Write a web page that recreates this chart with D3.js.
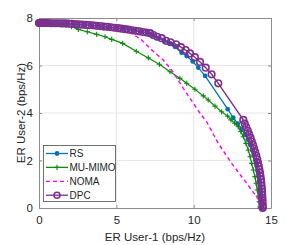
<!DOCTYPE html>
<html>
<head>
<meta charset="utf-8">
<script src="https://cdn.jsdelivr.net/npm/d3@7"></script>
<style>
body { margin: 0; background: #fff; }
text { font-family: "Liberation Sans", Arial, sans-serif; fill: #262626; }
</style>
</head>
<body>
<div id="container"></div>
<script>
// series values
var rsX = [0, 0.03, 0.1, 0.2, 0.33, 0.5, 0.7, 0.93, 1.2, 1.5, 1.83, 2.18, 2.55, 2.94, 3.34, 3.75, 4.16, 4.57, 4.98, 5.39, 5.8, 6.2, 6.6, 6.98, 7.35, 7.72, 8.1, 8.47, 8.79, 9.22, 9.55, 9.94, 10.30, 10.74, 12.20,
  12.56, 12.85, 13.10, 13.32, 13.50, 13.65, 13.78, 13.89, 13.99, 14.07, 14.14, 14.20, 14.26, 14.31, 14.35, 14.38, 14.40, 14.41, 14.42];
var rsY = [7.79, 7.79, 7.79, 7.79, 7.79, 7.79, 7.79, 7.78, 7.78, 7.77, 7.76, 7.75, 7.73, 7.71, 7.69, 7.67, 7.64, 7.62, 7.59, 7.55, 7.51, 7.47, 7.42, 7.37, 7.28, 7.14, 7.04, 6.93, 6.79, 6.54, 6.40, 6.17, 5.91, 5.56, 4.16,
  3.80, 3.55, 3.32, 3.10, 2.88, 2.66, 2.44, 2.22, 2.00, 1.78, 1.56, 1.34, 1.12, 0.90, 0.68, 0.46, 0.26, 0.10, 0];

var muX = [0, 0.05, 0.15, 0.3, 0.5, 0.75, 1.05, 1.4, 1.75, 2.1, 2.54, 3.12, 3.73, 4.27, 4.70, 5.41, 6.29, 7.07, 7.78, 8.47, 9.11, 9.55, 10.08, 10.62, 10.94, 11.38, 11.81, 12.20, 12.41,
  12.65, 12.88, 13.05, 13.21, 13.38, 13.53, 13.65, 13.75, 13.86, 13.96, 14.04, 14.11, 14.18, 14.24, 14.29, 14.30];
var muY = [7.79, 7.79, 7.79, 7.79, 7.78, 7.77, 7.75, 7.72, 7.69, 7.64, 7.52, 7.42, 7.31, 7.21, 7.10, 6.93, 6.60, 6.32, 6.05, 5.74, 5.46, 5.25, 5.00, 4.72, 4.55, 4.29, 4.05, 3.87, 3.71,
  3.57, 3.42, 3.22, 3.00, 2.72, 2.44, 2.16, 1.88, 1.60, 1.32, 1.04, 0.76, 0.50, 0.26, 0.05, 0];

var nomaX = [0, 2.65, 4.59, 5.99, 6.64, 7.18, 8.03, 8.58, 9.33, 10.41, 10.84, 11.59, 12.46, 13.43, 14.29, 14.41];
var nomaY = [7.79, 7.73, 7.60, 7.36, 7.07, 6.72, 6.23, 5.81, 5.04, 3.99, 3.63, 2.72, 1.88, 1.04, 0.27, 0];

var dpcX = [0, 0.02, 0.06, 0.13, 0.22, 0.33, 0.45, 0.59, 0.75, 0.92, 1.1, 1.29, 1.49, 1.7, 1.91, 2.13, 2.35, 2.58, 2.81, 3.04, 3.27, 3.5, 3.73, 3.96, 4.19, 4.42, 4.65, 4.88, 5.11, 5.34, 5.57, 5.8, 6.03, 6.26, 6.49, 6.72, 6.95,
  7.18, 7.39, 7.65, 7.93, 8.21, 8.51, 8.86, 9.18, 9.48, 9.76, 10.08, 10.41, 10.78, 11.16, 11.59,
  13.21, 13.30, 13.40, 13.50, 13.59, 13.68, 13.76, 13.84, 13.91, 13.98, 14.05, 14.11, 14.16, 14.21, 14.25, 14.29, 14.32, 14.35, 14.37, 14.39, 14.41, 14.42, 14.43, 14.44, 14.45, 14.45, 14.46, 14.46, 14.46];
var dpcY = [7.79, 7.79, 7.79, 7.79, 7.79, 7.79, 7.79, 7.79, 7.78, 7.78, 7.78, 7.78, 7.77, 7.77, 7.76, 7.75, 7.74, 7.73, 7.72, 7.71, 7.70, 7.69, 7.67, 7.66, 7.64, 7.63, 7.61, 7.59, 7.57, 7.55, 7.53, 7.51, 7.48, 7.46, 7.44, 7.41, 7.39,
  7.36, 7.28, 7.21, 7.15, 7.04, 6.98, 6.89, 6.77, 6.65, 6.51, 6.35, 6.15, 5.91, 5.63, 5.25,
  3.71, 3.55, 3.40, 3.25, 3.10, 2.95, 2.80, 2.65, 2.50, 2.35, 2.20, 2.05, 1.90, 1.76, 1.62, 1.48, 1.34, 1.20, 1.07, 0.94, 0.81, 0.68, 0.56, 0.44, 0.33, 0.22, 0.12, 0.04, 0];

var xTicks = [0, 5, 10, 15];
var yTicks = [0, 2, 4, 6, 8];
var legendNames = ["RS", "MU-MIMO", "NOMA", "DPC"];

var width = 300, height = 245;
var margin = {top: 18, right: 29, bottom: 37, left: 39};

var svg = d3.select("#container").append("svg")
  .attr("width", width)
  .attr("height", height);

var x = d3.scaleLinear().domain([0, 15]).range([margin.left, width - margin.right]);
var y = d3.scaleLinear().domain([0, 8]).range([height - margin.bottom, margin.top]);

// white plot background + grid
svg.append("rect")
  .attr("x", x(0)).attr("y", y(8))
  .attr("width", x(15) - x(0)).attr("height", y(0) - y(8))
  .style("fill", "#fff");

svg.append("g").selectAll("line")
  .data(xTicks.slice(1, -1))
  .enter().append("line")
  .attr("x1", function(d) { return x(d); }).attr("x2", function(d) { return x(d); })
  .attr("y1", y(0)).attr("y2", y(8))
  .style("stroke", "#e6e6e6").style("stroke-width", 1);

svg.append("g").selectAll("line")
  .data(yTicks.slice(1, -1))
  .enter().append("line")
  .attr("y1", function(d) { return y(d); }).attr("y2", function(d) { return y(d); })
  .attr("x1", x(0)).attr("x2", x(15))
  .style("stroke", "#e6e6e6").style("stroke-width", 1);

// axes
var xAxis = svg.append("g")
  .attr("transform", "translate(0," + y(0) + ")")
  .call(d3.axisBottom(x).tickValues(xTicks).tickSizeInner(-3).tickSizeOuter(0).tickPadding(8));
var yAxis = svg.append("g")
  .attr("transform", "translate(" + x(0) + ",0)")
  .call(d3.axisLeft(y).tickValues(yTicks).tickSizeInner(-3).tickSizeOuter(0).tickPadding(6));
var xTop = svg.append("g")
  .attr("transform", "translate(0," + y(8) + ")")
  .call(d3.axisTop(x).tickValues(xTicks).tickSizeInner(-3).tickSizeOuter(0).tickFormat(""));
var yRight = svg.append("g")
  .attr("transform", "translate(" + x(15) + ",0)")
  .call(d3.axisRight(y).tickValues(yTicks).tickSizeInner(-3).tickSizeOuter(0).tickFormat(""));

[xAxis, yAxis, xTop, yRight].forEach(function(a) {
  a.select(".domain").style("stroke", "#8c8c8c").style("stroke-width", 1);
  a.selectAll(".tick line").style("stroke", "#8c8c8c");
  a.selectAll("text").style("font-size", "11.5px").style("fill", "#262626")
    .style("font-family", "'Liberation Sans', Arial, sans-serif");
});

// axis labels
svg.append("text")
  .attr("x", (x(0) + x(15)) / 2).attr("y", 241)
  .attr("text-anchor", "middle")
  .style("font-size", "11.5px")
  .text("ER User-1 (bps/Hz)");

svg.append("text")
  .attr("transform", "translate(21," + (y(0) + y(8)) / 2 + ") rotate(-90)")
  .attr("text-anchor", "middle")
  .attr("dy", "0.35em")
  .style("font-size", "11.5px")
  .text("ER User-2 (bps/Hz)");

function pts(xs, ys) {
  return xs.map(function(v, i) { return [v, ys[i]]; });
}

var line = d3.line()
  .x(function(d) { return x(d[0]); })
  .y(function(d) { return y(d[1]); });

var rsData = pts(rsX, rsY),
    muData = pts(muX, muY),
    nomaData = pts(nomaX, nomaY),
    dpcData = pts(dpcX, dpcY);

var gPlot = svg.append("g");

// RS
gPlot.append("path").datum(rsData).attr("d", line)
  .style("fill", "none").style("stroke", "#0072BD").style("stroke-width", 1.3);
gPlot.append("g").selectAll("circle").data(rsData).enter().append("circle")
  .attr("cx", function(d) { return x(d[0]); })
  .attr("cy", function(d) { return y(d[1]); })
  .attr("r", 2.4)
  .style("fill", "#0072BD");

// MU-MIMO
gPlot.append("path").datum(muData).attr("d", line)
  .style("fill", "none").style("stroke", "#0b8a0b").style("stroke-width", 1.2);
gPlot.append("g").selectAll("path").data(muData).enter().append("path")
  .attr("d", function(d) {
    var cx = x(d[0]), cy = y(d[1]), s = 2.6;
    return "M" + (cx - s) + "," + cy + "H" + (cx + s) + "M" + cx + "," + (cy - s) + "V" + (cy + s);
  })
  .style("stroke", "#0b8a0b").style("stroke-width", 1.1);

// NOMA
gPlot.append("path").datum(nomaData).attr("d", line)
  .style("fill", "none").style("stroke", "#ff00ff").style("stroke-width", 1.4)
  .style("stroke-dasharray", "4,3");

// DPC
gPlot.append("path").datum(dpcData).attr("d", line)
  .style("fill", "none").style("stroke", "#7E2F8E").style("stroke-width", 1.4);
gPlot.append("g").selectAll("circle").data(dpcData).enter().append("circle")
  .attr("cx", function(d) { return x(d[0]); })
  .attr("cy", function(d) { return y(d[1]); })
  .attr("r", 3.3)
  .style("fill", "none")
  .style("stroke", "#7E2F8E").style("stroke-width", 1.6);

// legend
var legend = svg.append("g").attr("transform", "translate(43,145)");
legend.append("rect")
  .attr("x", 0.5).attr("y", 0.5).attr("width", 72).attr("height", 56)
  .style("fill", "#fff").style("stroke", "#4d4d4d").style("stroke-width", 0.8);

var colors = ["#0072BD", "#0b8a0b", "#ff00ff", "#7E2F8E"];
var item = legend.selectAll(".item").data(legendNames).enter().append("g")
  .attr("class", "item")
  .attr("transform", function(d, i) { return "translate(0," + (8.5 + i * 13.9) + ")"; });

item.append("line")
  .attr("x1", 3).attr("x2", 25)
  .style("stroke", function(d, i) { return colors[i]; })
  .style("stroke-width", 1.3)
  .style("stroke-dasharray", function(d, i) { return i == 2 ? "4,3" : null; });

item.each(function(d, i) {
  var g = d3.select(this);
  if (i == 0) g.append("circle").attr("cx", 14).attr("r", 2.4).style("fill", colors[0]);
  if (i == 1) g.append("path").attr("d", "M11.4,0H16.6M14,-2.6V2.6").style("stroke", colors[1]).style("stroke-width", 1.1);
  if (i == 3) g.append("circle").attr("cx", 14).attr("r", 3).style("fill", "none").style("stroke", colors[3]).style("stroke-width", 1.6);
});

item.append("text")
  .attr("x", 26.5).attr("dy", "0.36em")
  .style("font-size", "10px")
  .text(function(d) { return d; });
</script>
</body>
</html>
